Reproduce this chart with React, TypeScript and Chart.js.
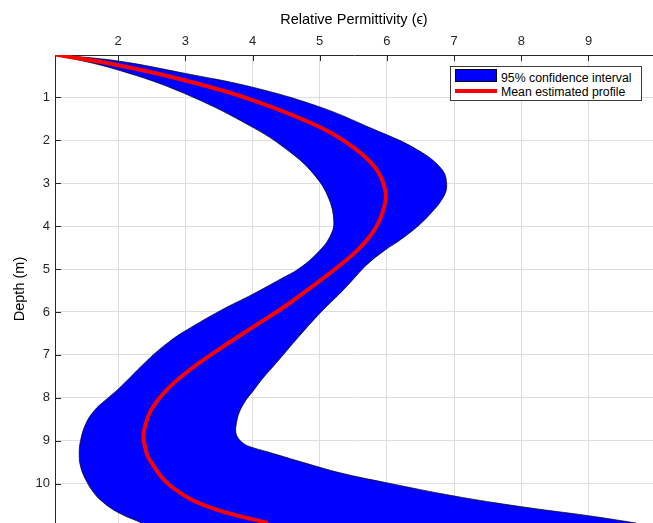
import React, { useEffect, useRef } from 'react';
import { Chart, registerables } from 'chart.js';

Chart.register(...registerables);

// Mean estimated profile (depth in m, relative permittivity)
const meanDepth = [0, 0.25, 0.6, 1.06, 1.69, 2.22, 2.69, 3.2, 3.55, 4.02, 4.5, 5.0, 5.31, 5.85, 6.32, 6.83, 7.37, 7.82, 8.29, 8.82, 9.15, 9.45, 10.08, 10.57, 10.92];
const meanEps = [1.06, 2.0, 2.99, 4.0, 5.0, 5.55, 5.85, 5.98, 5.96, 5.84, 5.6, 5.23, 4.97, 4.5, 4.04, 3.54, 3.05, 2.72, 2.49, 2.38, 2.4, 2.47, 2.8, 3.39, 4.23];

// 95% confidence interval, lower bound
const lowerDepth = [0, 0.36, 0.91, 1.72, 2.3, 2.77, 3.3, 3.9, 4.25, 4.6, 4.98, 5.23, 5.58, 5.97, 6.44, 6.67, 7.06, 7.8, 8.07, 8.29, 8.6, 9.0, 9.3, 9.6, 9.92, 10.2, 10.39, 10.66, 10.92];
const lowerEps = [1.06, 2.0, 2.99, 4.03, 4.58, 4.9, 5.12, 5.21, 5.15, 4.98, 4.7, 4.42, 4.01, 3.52, 3.0, 2.78, 2.48, 2.0, 1.8, 1.65, 1.52, 1.44, 1.42, 1.44, 1.52, 1.63, 1.74, 1.98, 2.35];

// 95% confidence interval, upper bound
const upperDepth = [0, 0.15, 0.44, 0.76, 1.22, 1.72, 2.19, 2.66, 3.04, 3.35, 3.74, 4.0, 4.33, 4.56, 4.9, 5.27, 5.6, 6.0, 6.59, 7.14, 7.59, 7.84, 8.06, 8.35, 8.6, 8.8, 8.95, 9.07, 9.14, 9.26, 9.53, 9.75, 9.98, 10.29, 10.54, 10.75, 10.92];
const upperEps = [1.06, 2.0, 3.0, 4.0, 5.0, 5.77, 6.42, 6.81, 6.89, 6.83, 6.63, 6.46, 6.19, 5.97, 5.7, 5.48, 5.28, 5.02, 4.68, 4.38, 4.13, 4.01, 3.9, 3.8, 3.76, 3.75, 3.79, 3.87, 3.96, 4.22, 4.8, 5.3, 5.99, 7.0, 8.0, 9.0, 9.71];

const X_MIN = 1.06;
const X_MAX = 9.96;
const Y_MIN = 0.01;
const Y_MAX = 10.92;

const xTitle = 'Relative Permittivity (\u03F5)';
const yTitle = 'Depth (m)';
const legendLabels = ['95% confidence interval', 'Mean estimated profile'];

const FONT = '"Liberation Sans", Arial, Helvetica, sans-serif';
const AXIS_COLOR = '#262626';

const toPoints = (depth: number[], eps: number[]) => depth.map((d, i) => ({ x: eps[i], y: d }));

const innerTicks = {
  id: 'innerTicks',
  afterDatasetsDraw(chart: any) {
    const { ctx, chartArea, scales } = chart;
    ctx.save();
    ctx.strokeStyle = AXIS_COLOR;
    ctx.lineWidth = 1;
    ctx.beginPath();
    scales.x.ticks.forEach((t: any) => {
      const p = Math.round(scales.x.getPixelForValue(t.value)) + 0.5;
      ctx.moveTo(p, chartArea.top);
      ctx.lineTo(p, chartArea.top + 6);
    });
    scales.y.ticks.forEach((t: any) => {
      const p = Math.round(scales.y.getPixelForValue(t.value)) + 0.5;
      ctx.moveTo(chartArea.left, p);
      ctx.lineTo(chartArea.left + 6, p);
    });
    ctx.stroke();
    ctx.restore();
  },
};

export default function App() {
  const canvasRef = useRef<HTMLCanvasElement | null>(null);

  useEffect(() => {
    if (!canvasRef.current) return;
    const common = { pointRadius: 0, tension: 0.4 };
    const chart = new Chart(canvasRef.current, {
      type: 'line',
      data: {
        datasets: [
          {
            label: legendLabels[1],
            data: toPoints(meanDepth, meanEps),
            borderColor: '#ff0000',
            borderWidth: 4,
            fill: false,
            ...common,
          },
          {
            label: 'lower bound',
            data: toPoints(lowerDepth, lowerEps),
            borderColor: '#000000',
            borderWidth: 0.7,
            fill: false,
            ...common,
          },
          {
            label: legendLabels[0],
            data: toPoints(upperDepth, upperEps),
            borderColor: '#000000',
            borderWidth: 0.7,
            backgroundColor: '#0000ff',
            fill: 1,
            ...common,
          },
        ],
      },
      options: {
        indexAxis: 'y',
        animation: false,
        responsive: false,
        layout: { padding: 0 },
        plugins: {
          legend: { display: false },
          tooltip: { enabled: false },
        },
        scales: {
          x: {
            type: 'linear',
            position: 'top',
            min: X_MIN,
            max: X_MAX,
            ticks: {
              stepSize: 1,
              includeBounds: false,
              padding: 6,
              color: AXIS_COLOR,
              font: { family: FONT, size: 13 },
            },
            grid: { color: '#dedede', drawTicks: false },
            border: { color: AXIS_COLOR, width: 1 },
            title: {
              display: true,
              text: xTitle,
              color: '#000000',
              font: { family: FONT, size: 14.5 },
              padding: { top: 11, bottom: 0 },
            },
            afterFit: (s: any) => {
              s.height = 55;
              s.paddingLeft = 0;
              s.paddingRight = 0;
            },
          },
          y: {
            type: 'linear',
            position: 'left',
            reverse: true,
            min: Y_MIN,
            max: Y_MAX,
            ticks: {
              stepSize: 1,
              includeBounds: false,
              padding: 5,
              color: AXIS_COLOR,
              font: { family: FONT, size: 13 },
            },
            grid: { color: '#dedede', drawTicks: false },
            border: { color: AXIS_COLOR, width: 1 },
            title: {
              display: true,
              text: yTitle,
              color: '#000000',
              font: { family: FONT, size: 14.5 },
              padding: { top: 11, bottom: 0 },
            },
            afterFit: (s: any) => {
              s.width = 55;
              s.paddingTop = 0;
              s.paddingBottom = 0;
            },
          },
        },
      } as any,
      plugins: [innerTicks],
    });
    return () => chart.destroy();
  }, []);

  return (
    <div style={{ position: 'absolute', left: 0, top: 0, width: 653, height: 523, overflow: 'hidden', background: '#fff' }}>
      <canvas ref={canvasRef} width={653} height={523} style={{ display: 'block' }} />
      <div
        style={{
          position: 'absolute',
          left: 450,
          top: 66,
          width: 192,
          height: 35,
          boxSizing: 'border-box',
          border: '1px solid #3a3a3a',
          background: '#ffffff',
          fontFamily: FONT,
          fontSize: 12.3,
          color: '#000',
        }}
      >
        <div style={{ position: 'absolute', left: 4, top: 2, width: 42, height: 13, boxSizing: 'border-box', background: '#0000ff', border: '1px solid #000' }} />
        <div style={{ position: 'absolute', left: 50, top: 4, lineHeight: '14px', whiteSpace: 'nowrap' }}>{legendLabels[0]}</div>
        <div style={{ position: 'absolute', left: 4, top: 22, width: 42, height: 4, background: '#ff0000' }} />
        <div style={{ position: 'absolute', left: 50, top: 18, lineHeight: '14px', whiteSpace: 'nowrap' }}>{legendLabels[1]}</div>
      </div>
    </div>
  );
}
